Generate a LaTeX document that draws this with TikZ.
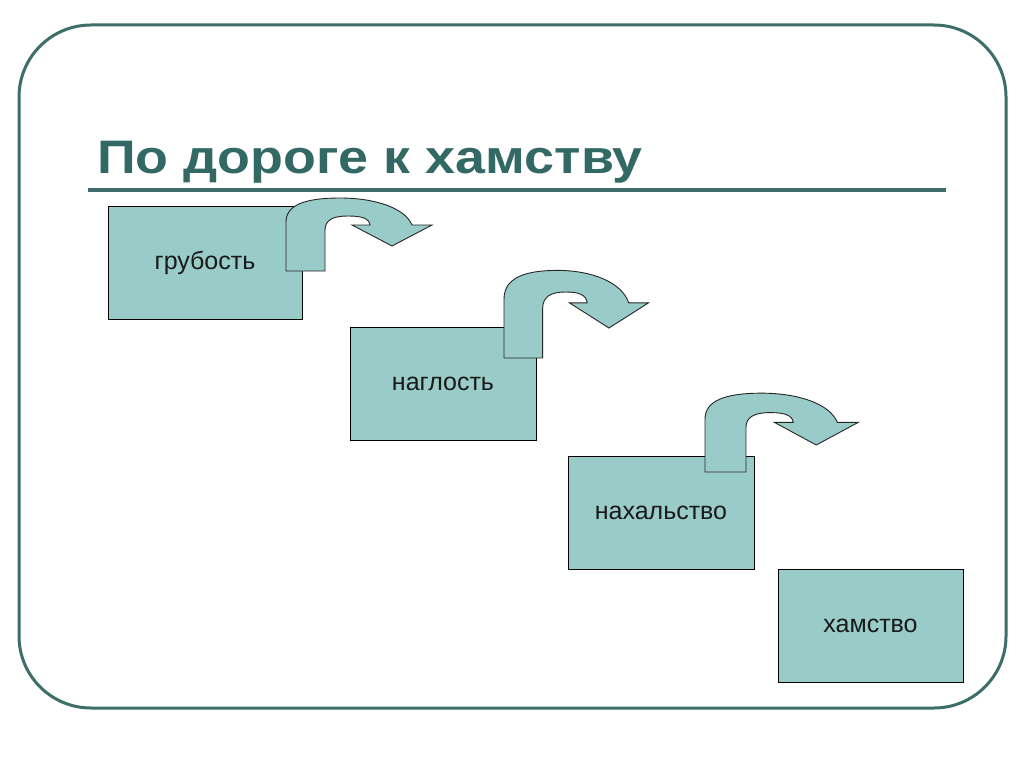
\documentclass[tikz,border=0pt]{standalone}
\usepackage{fontspec}
\setmainfont{Liberation Sans}
\definecolor{frame}{HTML}{3D6E69}
\definecolor{titlec}{HTML}{336964}
\definecolor{boxfill}{HTML}{99CCC9}
\begin{document}
\begin{tikzpicture}[x=1pt,y=-1pt,
  stepbox/.style={draw=black,line width=0.9pt,fill=boxfill,minimum width=#1,minimum height=113pt,inner sep=0pt,font=\fontsize{25}{28}\selectfont,text=black!90},
  uarrow/.style={draw=black!85,line width=0.9pt,fill=boxfill}]
\useasboundingbox (0,0) rectangle (1024,768);
\fill[white] (0,0) rectangle (1024,768);
\draw[frame,line width=3pt,rounded corners=72pt] (19,25) rectangle (1006,708);
\node[anchor=base west,text=titlec,font=\fontsize{47}{52}\selectfont\bfseries,inner sep=0pt,xscale=1.145] (title) at (97,173) {По дороге к хамству};
\draw[frame,line width=4pt] (88,190) -- (946,190);
\newcommand{\uturnshape}{%
  \path[uarrow] (0,0) -- (0,-49) .. controls (0,-66) and (19,-73) .. (54,-73)
    .. controls (89,-73) and (119,-63) .. (126,-46) -- (146,-46) -- (106,-25) -- (66,-46) -- (84,-46)
    .. controls (83,-53) and (75,-55) .. (62,-55)
    .. controls (47,-55) and (39,-51) .. (39,-41) -- (39,0) -- cycle;}
\node[stepbox=194pt] (b1) at (205,262.5) {грубость};
\begin{scope}[shift={(286,271)}]\uturnshape\end{scope}
\node[stepbox=186pt] (b2) at (443,383.5) {наглость};
\begin{scope}[shift={(504,358)},xscale=0.99,yscale=1.2]\uturnshape\end{scope}
\node[stepbox=186pt] (b3) at (661,512.5) {нахальство};
\begin{scope}[shift={(705,472)},xscale=1.05,yscale=1.08]\uturnshape\end{scope}
\node[stepbox=185pt] (b4) at (870.5,625.5) {хамство};
\end{tikzpicture}
\end{document}
